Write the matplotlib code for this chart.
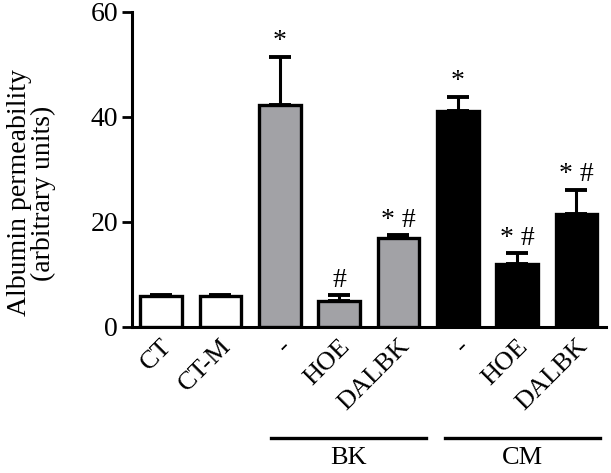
import matplotlib
matplotlib.use("Agg")
import matplotlib.pyplot as plt
import numpy as np

# data
labels = ['CT', 'CT-M', '-', 'HOE', 'DALBK', '-', 'HOE', 'DALBK']
values = [5.8, 5.8, 42.3, 5.0, 17.0, 41.2, 11.9, 21.5]
errors = [0.3, 0.3, 9.1, 1.0, 0.4, 2.6, 2.1, 4.6]
colors = ['white', 'white', '#a2a2a6', '#a2a2a6', '#a2a2a6', 'black', 'black', 'black']
marks = ['', '', '*', '#', '* #', '*', '* #', '* #']
groups = ['BK', 'CM']
group_span = [(1.85, 4.47), (4.79, 7.39)]

plt.rcParams['font.family'] = ['Liberation Serif', 'DejaVu Serif']

fig = plt.figure(figsize=(6.11, 4.73), dpi=100)
ax = fig.add_axes([0.216, 0.309, 0.776, 0.666])

x = np.arange(len(labels))
ax.bar(x, values, width=0.70, color=colors, edgecolor='black', linewidth=2.4, zorder=3)
ax.errorbar(x, values, yerr=[np.zeros(len(errors)), errors], fmt='none', ecolor='black',
            elinewidth=2.2, capsize=8, capthick=2.8, zorder=2)

for xi, v, e, m in zip(x, values, errors, marks):
    if m:
        ax.annotate(m, (xi, v + e), xytext=(0, 2), textcoords='offset points',
                    ha='center', va='bottom', fontsize=20)

ax.set_xlim(-0.49, 7.5)
ax.set_ylim(0, 60)
ax.set_yticks([0, 20, 40, 60])
ax.tick_params(axis='y', labelsize=20, width=2, length=7, direction='out', pad=3)
ax.tick_params(axis='x', length=0, pad=6)
ax.set_xticks(x)
ax.set_xticklabels(labels, rotation=45, ha='right', rotation_mode='anchor', fontsize=19)
for s in ['top', 'right']:
    ax.spines[s].set_visible(False)
for s in ['left', 'bottom']:
    ax.spines[s].set_linewidth(2.2)

ax.set_ylabel('Albumin permeability\n(arbitrary units)', fontsize=20, linespacing=0.95)
ax.yaxis.set_label_coords(-0.16, 0.425)

tr = ax.get_xaxis_transform()
for g, (a, b) in zip(groups, group_span):
    ax.plot([a, b], [-0.352, -0.352], color='black', lw=2.4, transform=tr, clip_on=False)
    ax.text((a + b) / 2, -0.436, g, transform=tr, ha='center', va='baseline', fontsize=19)

fig.savefig('out.png', dpi=100)
